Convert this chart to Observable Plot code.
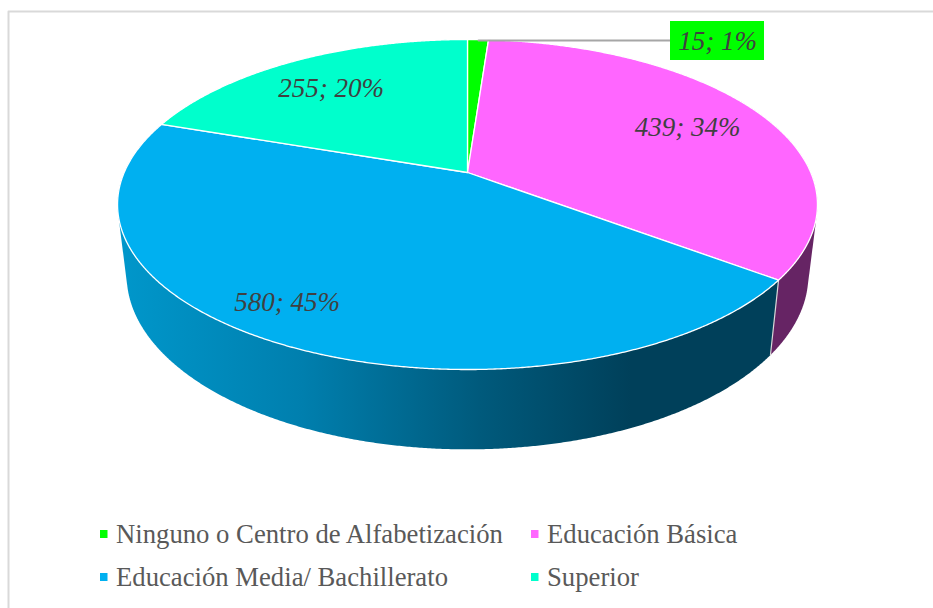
<!DOCTYPE html>
<html>
<head>
<meta charset="utf-8">
<script src="https://cdn.jsdelivr.net/npm/d3@7"></script>
<script src="https://cdn.jsdelivr.net/npm/@observablehq/plot@0.6"></script>
<style>html,body{margin:0;padding:0;background:#fff;overflow:hidden}svg{display:block}</style>
</head>
<body>
<div id="chart"></div>
<script>
// Data
const categories = ["Ninguno o Centro de Alfabetización", "Educación Básica", "Educación Media/ Bachillerato", "Superior"];
const counts = [15, 439, 580, 255];
const percents = [1, 34, 45, 20];
const colors = ["#00ff00", "#ff66ff", "#00b0f0", "#00ffcc"];

// Layout of the 3D pie (perspective of a disc)
const view = {cx: 467, cy: 172, A: 343.3, B: 158.8, k: 0.194, sx: 0.974, sy: 1.055, dy: 69};
const labelPos = [[717, 41], [687, 127], [286.5, 302], [330.5, 88]];
const legendPos = [[100, 534], [531, 534], [100, 577], [531, 577]];

const total = d3.sum(counts);
const cum = d3.cumsum(counts);
const angleOf = (c) => (c / total) * 2 * Math.PI;

function topAt(a) {
  const u = Math.sin(a), v = -Math.cos(a), w = 1 - view.k * v;
  return [view.cx + view.A * u / w, view.cy + view.B * v / w];
}
function bottomAt(a) {
  const [x, y] = topAt(a);
  return [view.cx + view.sx * (x - view.cx), view.cy + view.dy + view.sy * (y - view.cy)];
}
function arc(fn, a0, a1) {
  const n = Math.max(2, Math.ceil(Math.abs(a1 - a0) / 0.005));
  return d3.range(n + 1).map((i) => fn(a0 + (a1 - a0) * i / n));
}

const slices = categories.flatMap((name, i) => {
  const a0 = angleOf(i ? cum[i - 1] : 0), a1 = angleOf(cum[i]);
  return [[view.cx, view.cy], ...arc(topAt, a0, a1), [view.cx, view.cy]].map(([x, y]) => ({x, y, name}));
});
const blueStart = angleOf(cum[1]), blueEnd = angleOf(cum[2]);
// The wall of a slice is the hull of its upper and lower rims; the disc is painted over the part behind it.
const side = (a0, a1) => d3.polygonHull([...arc(topAt, a0, a1), ...arc(bottomAt, a0, a1)]).map(([x, y]) => ({x, y}));
const blueSide = side(blueStart, blueEnd);
const pinkSide = side(Math.PI / 3, blueStart);
const seam = [topAt(blueStart), bottomAt(blueStart)].map(([x, y]) => ({x, y}));

const labels = categories.map((name, i) => ({
  text: `${counts[i]}; ${percents[i]}%`, x: labelPos[i][0], y: labelPos[i][1]
}));
const legend = categories.map((name, i) => ({name, x: legendPos[i][0], y: legendPos[i][1]}));

const gradient = () => {
  const ns = "http://www.w3.org/2000/svg";
  const defs = document.createElementNS(ns, "defs");
  const g = document.createElementNS(ns, "linearGradient");
  g.setAttribute("id", "blueSideFill");
  g.setAttribute("gradientUnits", "userSpaceOnUse");
  g.setAttribute("x1", 118); g.setAttribute("x2", 775);
  g.setAttribute("y1", 0); g.setAttribute("y2", 0);
  [[0, "#0097cb"], [0.28, "#007fae"], [0.55, "#005a7c"], [0.78, "#00405a"], [1, "#00405a"]].forEach(([o, c]) => {
    const s = document.createElementNS(ns, "stop");
    s.setAttribute("offset", o); s.setAttribute("stop-color", c);
    g.appendChild(s);
  });
  defs.appendChild(g);
  return defs;
};

const serif = "Liberation Serif";
const chart = Plot.plot({
  width: 933, height: 608,
  margin: 0,
  x: {domain: [0, 933], range: [0, 933], axis: null},
  y: {domain: [0, 608], range: [0, 608], axis: null},
  color: {domain: categories, range: colors},
  style: {background: "#fff"},
  marks: [
    gradient,
    Plot.line([{x: 8, y: 608}, {x: 8, y: 11}, {x: 933, y: 11}], {x: "x", y: "y", stroke: "#d9d9d9", strokeWidth: 2}),
    Plot.line(pinkSide, {x: "x", y: "y", fill: "#662464", stroke: "none"}),
    Plot.line(blueSide, {x: "x", y: "y", fill: "url(#blueSideFill)", stroke: "none"}),
    Plot.line(seam, {x: "x", y: "y", stroke: "#d8d8d8", strokeWidth: 1.2}),
    Plot.line(slices, {x: "x", y: "y", z: "name", fill: "name", stroke: "#fff", strokeWidth: 1.3, strokeLinejoin: "round"}),
    Plot.line([{x: 478, y: 40}, {x: 670, y: 40}], {x: "x", y: "y", stroke: "#a6a6a6", strokeWidth: 2}),
    Plot.rect([{x1: 670, x2: 764, y1: 21, y2: 60}], {x1: "x1", x2: "x2", y1: "y1", y2: "y2", fill: colors[0]}),
    Plot.text(labels, {x: "x", y: "y", text: "text", fontFamily: serif, fontStyle: "italic", fontSize: 27, fill: "#404040", textAnchor: "middle", lineAnchor: "middle"}),
    Plot.rect(legend, {x1: "x", x2: (d) => d.x + 7.5, y1: (d) => d.y - 4, y2: (d) => d.y + 4, fill: "name"}),
    Plot.text(legend, {x: (d) => d.x + 15.5, y: "y", text: "name", fontFamily: serif, fontSize: 26.7, fill: "#595959", textAnchor: "start", lineAnchor: "middle"})
  ]
});
document.getElementById("chart").appendChild(chart);
</script>
</body>
</html>
